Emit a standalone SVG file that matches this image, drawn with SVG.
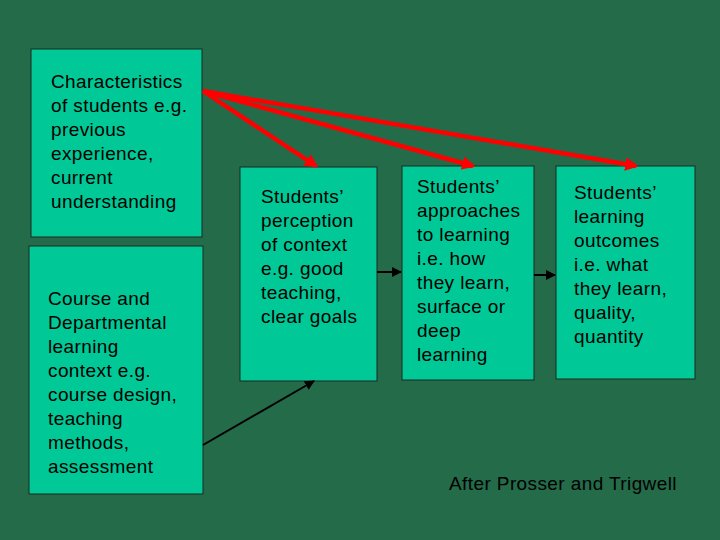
<svg xmlns="http://www.w3.org/2000/svg" width="720" height="540" viewBox="0 0 720 540">
<defs>
<style>
.box{fill:#00C896;stroke:#1a2a20;stroke-width:1}
.t{font-family:"Liberation Sans",Arial,sans-serif;font-size:19px;letter-spacing:0.4px;fill:#000}
.red{stroke:#FF0000;stroke-width:4.5;fill:none}
.blk{stroke:#000;stroke-width:2;fill:none}
</style>
<marker id="ar" viewBox="0 0 10 10" refX="8" refY="5" markerWidth="3" markerHeight="3" orient="auto" markerUnits="strokeWidth"><path d="M0,0L10,5L0,10z" fill="#FF0000"/></marker>
<marker id="ab" viewBox="0 0 10 10" refX="9" refY="5" markerWidth="5" markerHeight="5" orient="auto" markerUnits="strokeWidth"><path d="M0,0L10,5L0,10z" fill="#000"/></marker>
</defs>
<rect width="720" height="540" fill="#246B4A"/>
<g id="n1"><rect class="box" x="31" y="49" width="171" height="188"/>
<text class="t"><tspan x="51" y="88">Characteristics</tspan><tspan x="51" y="112">of students e.g.</tspan><tspan x="51" y="136">previous</tspan><tspan x="51" y="160">experience,</tspan><tspan x="51" y="184">current</tspan><tspan x="51" y="208">understanding</tspan></text></g>
<g id="n2"><rect class="box" x="29" y="246" width="174" height="248"/>
<text class="t"><tspan x="48" y="305">Course and</tspan><tspan x="48" y="329">Departmental</tspan><tspan x="48" y="353">learning</tspan><tspan x="48" y="377">context e.g.</tspan><tspan x="48" y="401">course design,</tspan><tspan x="48" y="425">teaching</tspan><tspan x="48" y="449">methods,</tspan><tspan x="48" y="473">assessment</tspan></text></g>
<g id="n3"><rect class="box" x="240" y="167" width="137" height="214"/>
<text class="t"><tspan x="261" y="203">Students’</tspan><tspan x="261" y="227">perception</tspan><tspan x="261" y="251">of context</tspan><tspan x="261" y="275">e.g. good</tspan><tspan x="261" y="299">teaching,</tspan><tspan x="261" y="323">clear goals</tspan></text></g>
<g id="n4"><rect class="box" x="402" y="166" width="132" height="214"/>
<text class="t"><tspan x="417" y="193">Students’</tspan><tspan x="417" y="217">approaches</tspan><tspan x="417" y="241">to learning</tspan><tspan x="417" y="265">i.e. how</tspan><tspan x="417" y="289">they learn,</tspan><tspan x="417" y="313">surface or</tspan><tspan x="417" y="337">deep</tspan><tspan x="417" y="361">learning</tspan></text></g>
<g id="n5"><rect class="box" x="556" y="166" width="139" height="213"/>
<text class="t"><tspan x="574" y="199">Students’</tspan><tspan x="574" y="223">learning</tspan><tspan x="574" y="247">outcomes</tspan><tspan x="574" y="271">i.e. what</tspan><tspan x="574" y="295">they learn,</tspan><tspan x="574" y="319">quality,</tspan><tspan x="574" y="343">quantity</tspan></text></g>
<g id="connectors">
<line class="red" x1="203" y1="91" x2="316" y2="166" marker-end="url(#ar)"/>
<line class="red" x1="203" y1="91" x2="473" y2="166" marker-end="url(#ar)"/>
<line class="red" x1="203" y1="91" x2="636" y2="166" marker-end="url(#ar)"/>
<line class="blk" x1="203" y1="445" x2="314" y2="381" marker-end="url(#ab)"/>
<line class="blk" x1="377" y1="272" x2="401" y2="272" marker-end="url(#ab)"/>
<line class="blk" x1="534" y1="275" x2="555" y2="275" marker-end="url(#ab)"/>
</g>
<text class="t" x="449" y="490">After Prosser and Trigwell</text>
</svg>
